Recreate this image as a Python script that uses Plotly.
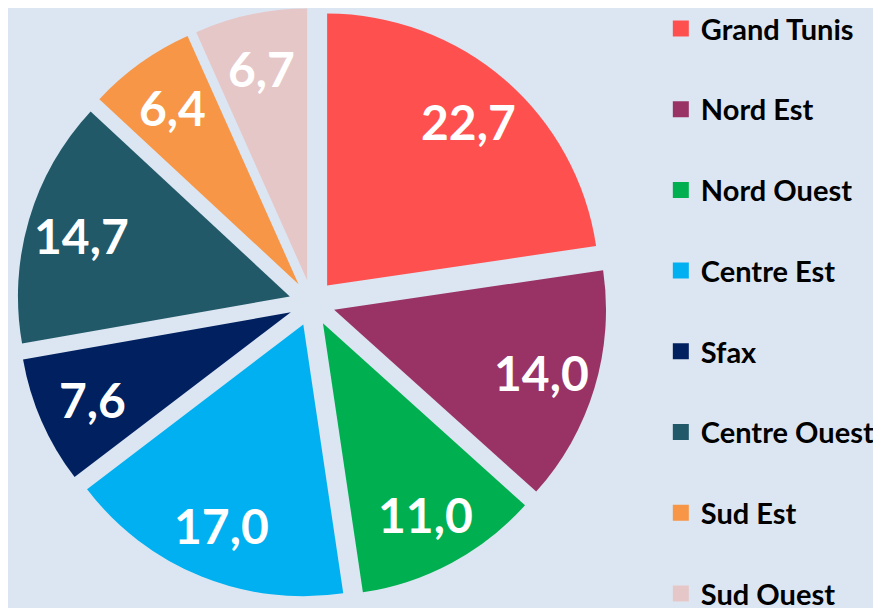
import math
import plotly.graph_objects as go

regions = ["Grand Tunis", "Nord Est", "Nord Ouest", "Centre Est", "Sfax",
           "Centre Ouest", "Sud Est", "Sud Ouest"]
values = [22.7, 14.0, 11.0, 17.0, 7.6, 14.7, 6.4, 6.7]
colors = ["#FF5050", "#993366", "#00B050", "#00B0F0", "#002060",
          "#215968", "#F79646", "#E6C7C8"]

BG = "#DCE6F2"
FONT = "Lato"
W, H = 881, 608

# pie placement (figure pixels)
CX, CY, HALF = 304, 295, 295
PULL = 0.085
LABEL_R = 240  # distance of labels from pie centre, px

dom_x = [(CX - HALF) / W, (CX + HALF) / W]
dom_y = [max(0.0, 1 - (CY + HALF) / H), min(1.0, 1 - (CY - HALF) / H)]

fig = go.Figure()
fig.add_trace(go.Pie(
    labels=regions, values=values, sort=False, direction="clockwise",
    rotation=0, pull=[PULL] * len(values),
    marker=dict(colors=colors, line=dict(width=0)),
    textinfo="none",
    domain=dict(x=dom_x, y=dom_y),
    showlegend=False, hoverinfo="label+value",
))

# value labels placed along each slice's bisector
total = sum(values)
cum = 0.0
for v in values:
    theta = 2 * math.pi * (cum + v / 2) / total
    cum += v
    px = CX + LABEL_R * math.sin(theta)
    py = CY - LABEL_R * math.cos(theta)
    fig.add_annotation(
        x=px / W, y=1 - py / H, xref="paper", yref="paper",
        text=f"{v:.1f}".replace(".", ","), showarrow=False,
        font=dict(family=FONT, size=48, color="white", weight="bold"),
        xanchor="center", yanchor="middle",
    )

for i, (name, col) in enumerate(zip(regions, colors)):
    fig.add_trace(go.Scatter(
        x=[None], y=[None], mode="markers", name=name,
        legendgroup=f"g{i}",
        marker=dict(symbol="square", size=18, color=col),
        showlegend=True,
    ))

fig.update_layout(
    width=W, height=H,
    margin=dict(l=0, r=0, t=0, b=0, autoexpand=False),
    paper_bgcolor=BG, plot_bgcolor=BG,
    separators=",.",
    xaxis=dict(visible=False), yaxis=dict(visible=False),
    legend=dict(
        x=0.741, y=1.008, xanchor="left", yanchor="top",
        font=dict(family=FONT, size=29, color="black", weight="bold"),
        tracegroupgap=40, traceorder="grouped",
        bgcolor="rgba(0,0,0,0)", itemsizing="trace", maxheight=900,
    ),
)

fig.write_html("out.html")
